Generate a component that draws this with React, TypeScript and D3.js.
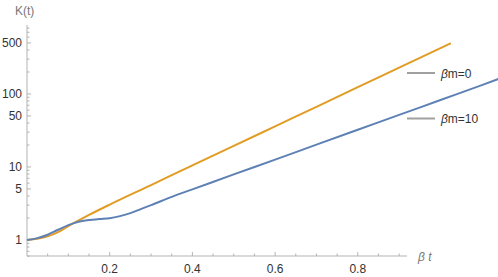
import React from "react";
import * as d3 from "d3";

// beta*t sample points and K(t) values
const tZero = [0, 0.025, 0.05, 0.075, 0.1, 0.125, 0.15, 0.2, 0.3, 0.4, 0.5, 0.6, 0.7, 0.8, 0.9, 1.0, 1.025];
const kZero = [1, 1.04, 1.12, 1.28, 1.55, 1.85, 2.2, 3.05, 5.65, 10.5, 19.4, 36, 66.7, 124, 229, 425, 495];

const tTen = [0, 0.025, 0.05, 0.075, 0.1, 0.125, 0.15, 0.175, 0.2, 0.225, 0.25, 0.275, 0.3, 0.35, 0.4, 0.5, 0.6, 0.7, 0.8, 0.9, 1.0, 1.1, 1.15];
const kTen = [1, 1.06, 1.18, 1.38, 1.6, 1.78, 1.87, 1.93, 1.98, 2.12, 2.33, 2.65, 3.0, 3.9, 4.93, 7.9, 12.6, 20.2, 32.3, 51.6, 82.6, 132, 168];

const xTicks = [0.2, 0.4, 0.6, 0.8];
const yTicks = [1, 5, 10, 50, 100, 500];
const seriesNames = ["βm=0", "βm=10"];
const seriesColors = ["#E19C24", "#5E81B5"];

const width = 498;
const height = 277;

const App: React.FC = () => {
  const x = d3.scaleLinear().domain([0, 0.919]).range([27, 407]);
  const y = d3.scaleLog().domain([0.603, 880]).range([256, 25]);

  const line = d3
    .line<[number, number]>()
    .x((d) => x(d[0]))
    .y((d) => y(d[1]))
    .curve(d3.curveMonotoneX);

  const series = [
    tZero.map((t, i) => [t, kZero[i]] as [number, number]),
    tTen.map((t, i) => [t, kTen[i]] as [number, number]),
  ];

  // minor ticks
  const xMinor = d3.range(0.05, 0.92, 0.05).filter((v) => Math.abs(v * 5 - Math.round(v * 5)) > 1e-6);
  const yMinor: number[] = [];
  [0.1, 1, 10, 100].forEach((p) => {
    for (let k = 1; k <= 9; k++) {
      const v = +(k * p).toPrecision(3);
      if (v >= 0.6 && v <= 880 && !yTicks.includes(v)) yMinor.push(v);
    }
  });

  const [x0, x1] = x.range();
  const [yb, yt] = y.range();
  const axisColor = "#b3b3b3";
  const font = "'Liberation Sans', Arial, sans-serif";

  return (
    <div style={{ position: "absolute", left: 0, top: 0 }}>
      <svg width={width} height={height} style={{ display: "block" }} fontFamily={font}>
        {/* axes */}
        <line x1={x0} x2={x1} y1={yb} y2={yb} stroke={axisColor} strokeWidth={1} />
        <line x1={x0} x2={x0} y1={yb} y2={yt} stroke={axisColor} strokeWidth={1} />

        {xTicks.map((v) => (
          <g key={"xt" + v}>
            <line x1={x(v)} x2={x(v)} y1={yb} y2={yb - 4} stroke={axisColor} />
            <text x={x(v)} y={yb + 17} textAnchor="middle" fontSize={12} fill="#333">
              {v.toFixed(1)}
            </text>
          </g>
        ))}
        {xMinor.map((v) => (
          <line key={"xm" + v} x1={x(v)} x2={x(v)} y1={yb} y2={yb - 2.5} stroke={axisColor} />
        ))}

        {yTicks.map((v) => (
          <g key={"yt" + v}>
            <line x1={x0} x2={x0 + 4} y1={y(v)} y2={y(v)} stroke={axisColor} />
            <text x={x0 - 5} y={y(v) + 4} textAnchor="end" fontSize={12} fill="#333">
              {v}
            </text>
          </g>
        ))}
        {yMinor.map((v) => (
          <line key={"ym" + v} x1={x0} x2={x0 + 2.5} y1={y(v)} y2={y(v)} stroke={axisColor} />
        ))}

        {/* axis labels */}
        <text x={15} y={15} fontSize={12} fill="#777">
          K(t)
        </text>
        <text x={418} y={261} fontSize={12} fill="#777" fontStyle="italic">
          β t
        </text>

        {/* curves */}
        {series.map((s, i) => (
          <path key={"s" + i} d={line(s) || ""} fill="none" stroke={seriesColors[i]} strokeWidth={2} />
        ))}

        {/* legend */}
        {seriesNames.map((name, i) => (
          <g key={"lg" + i} transform={`translate(407, ${73 + i * 45.5})`}>
            <line x1={0} x2={28} y1={0} y2={0} stroke="#a0a0a0" strokeWidth={2} />
            <text x={34} y={4.5} fontSize={12} fill="#333">
              <tspan fontStyle="italic">β</tspan>
              {name.slice(1)}
            </text>
          </g>
        ))}
      </svg>
    </div>
  );
};

export default App;
